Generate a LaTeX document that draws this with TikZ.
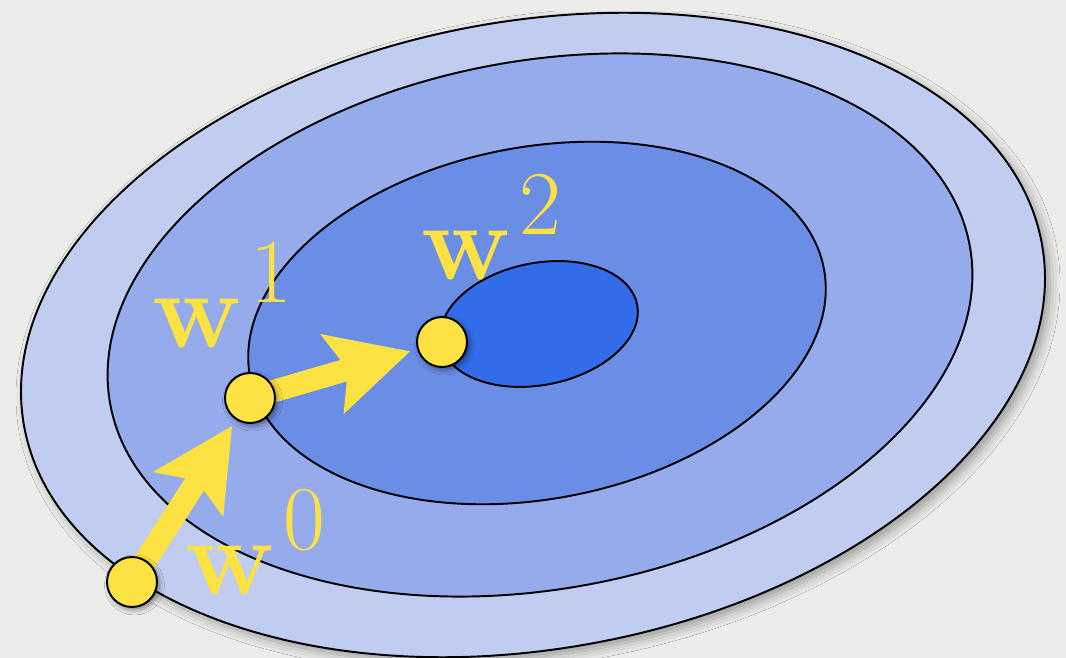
\documentclass[tikz,border=0pt]{standalone}
\usepackage{amsmath}
\usepackage{graphicx}
\usepackage{tikz}
\usetikzlibrary{arrows.meta, shadows.blur}
\definecolor{bgGrey}{RGB}{236,237,234}
\definecolor{lvlA}{RGB}{192,205,240}
\definecolor{lvlB}{RGB}{150,171,236}
\definecolor{lvlC}{RGB}{106,141,230}
\definecolor{lvlD}{RGB}{51,108,232}
\definecolor{gdYellow}{RGB}{252,226,66}
\newcommand{\iterlab}[1]{\scalebox{2.5}{$\displaystyle\mathbf{w}^{\mkern1.5mu #1}$}}

\begin{document}
\begin{tikzpicture}[x=0.02cm,y=-0.02cm,
  contour/.style={draw=black,line width=1.1pt},
  wdot/.style={circle,draw=black,line width=1.1pt,fill=gdYellow,
               minimum size=1cm,inner sep=0pt,
               blur shadow={shadow xshift=0.5mm,shadow yshift=-0.6mm,
                            shadow blur radius=1mm,shadow opacity=45}},
  stepArr/.style={-{Stealth[length=1.6cm,width=1.6cm,inset=0.3cm]},
                  line width=0.45cm,draw=gdYellow,shorten >=0.66cm},
  lbl/.style={text=gdYellow,inner sep=0pt,anchor=base west,font=\Huge}]

\fill[bgGrey] (0,0) rectangle (1066,658);
\useasboundingbox (0,0) rectangle (1066,658);

% ===== level sets of the loss =====
\draw[contour,fill=lvlA,rotate around={10.1:(533,335)},
      blur shadow={shadow xshift=1mm,shadow yshift=-1mm,
                   shadow blur radius=2mm,shadow opacity=35}]
   (533,335) ellipse [x radius=517,y radius=314];
\draw[contour,fill=lvlB,rotate around={10.5:(540,325)}]
   (540,325) ellipse [x radius=437,y radius=264];
\draw[contour,fill=lvlC,rotate around={10.7:(537,323)}]
   (537,323) ellipse [x radius=292,y radius=176];
\draw[contour,fill=lvlD,rotate around={11.2:(539,324)}]
   (539,324) ellipse [x radius=100,y radius=61];

% ===== iterates =====
\coordinate (w0) at (132,582);
\coordinate (w1) at (250,398);
\coordinate (w2) at (442,342);

% Steps between iterates (drawn before the dots)
\draw[stepArr] (w0) -- (w1);
\draw[stepArr] (w1) -- (w2);

\node[wdot] (d0) at (w0) {};
\node[wdot] (d1) at (w1) {};
\node[wdot] (d2) at (w2) {};

% Labels
\node[lbl] (l0) at (185,595) {\iterlab{0}};
\node[lbl] (l1) at (152,348) {\iterlab{1}};
\node[lbl] (l2) at (421,280) {\iterlab{2}};
\end{tikzpicture}
\end{document}
